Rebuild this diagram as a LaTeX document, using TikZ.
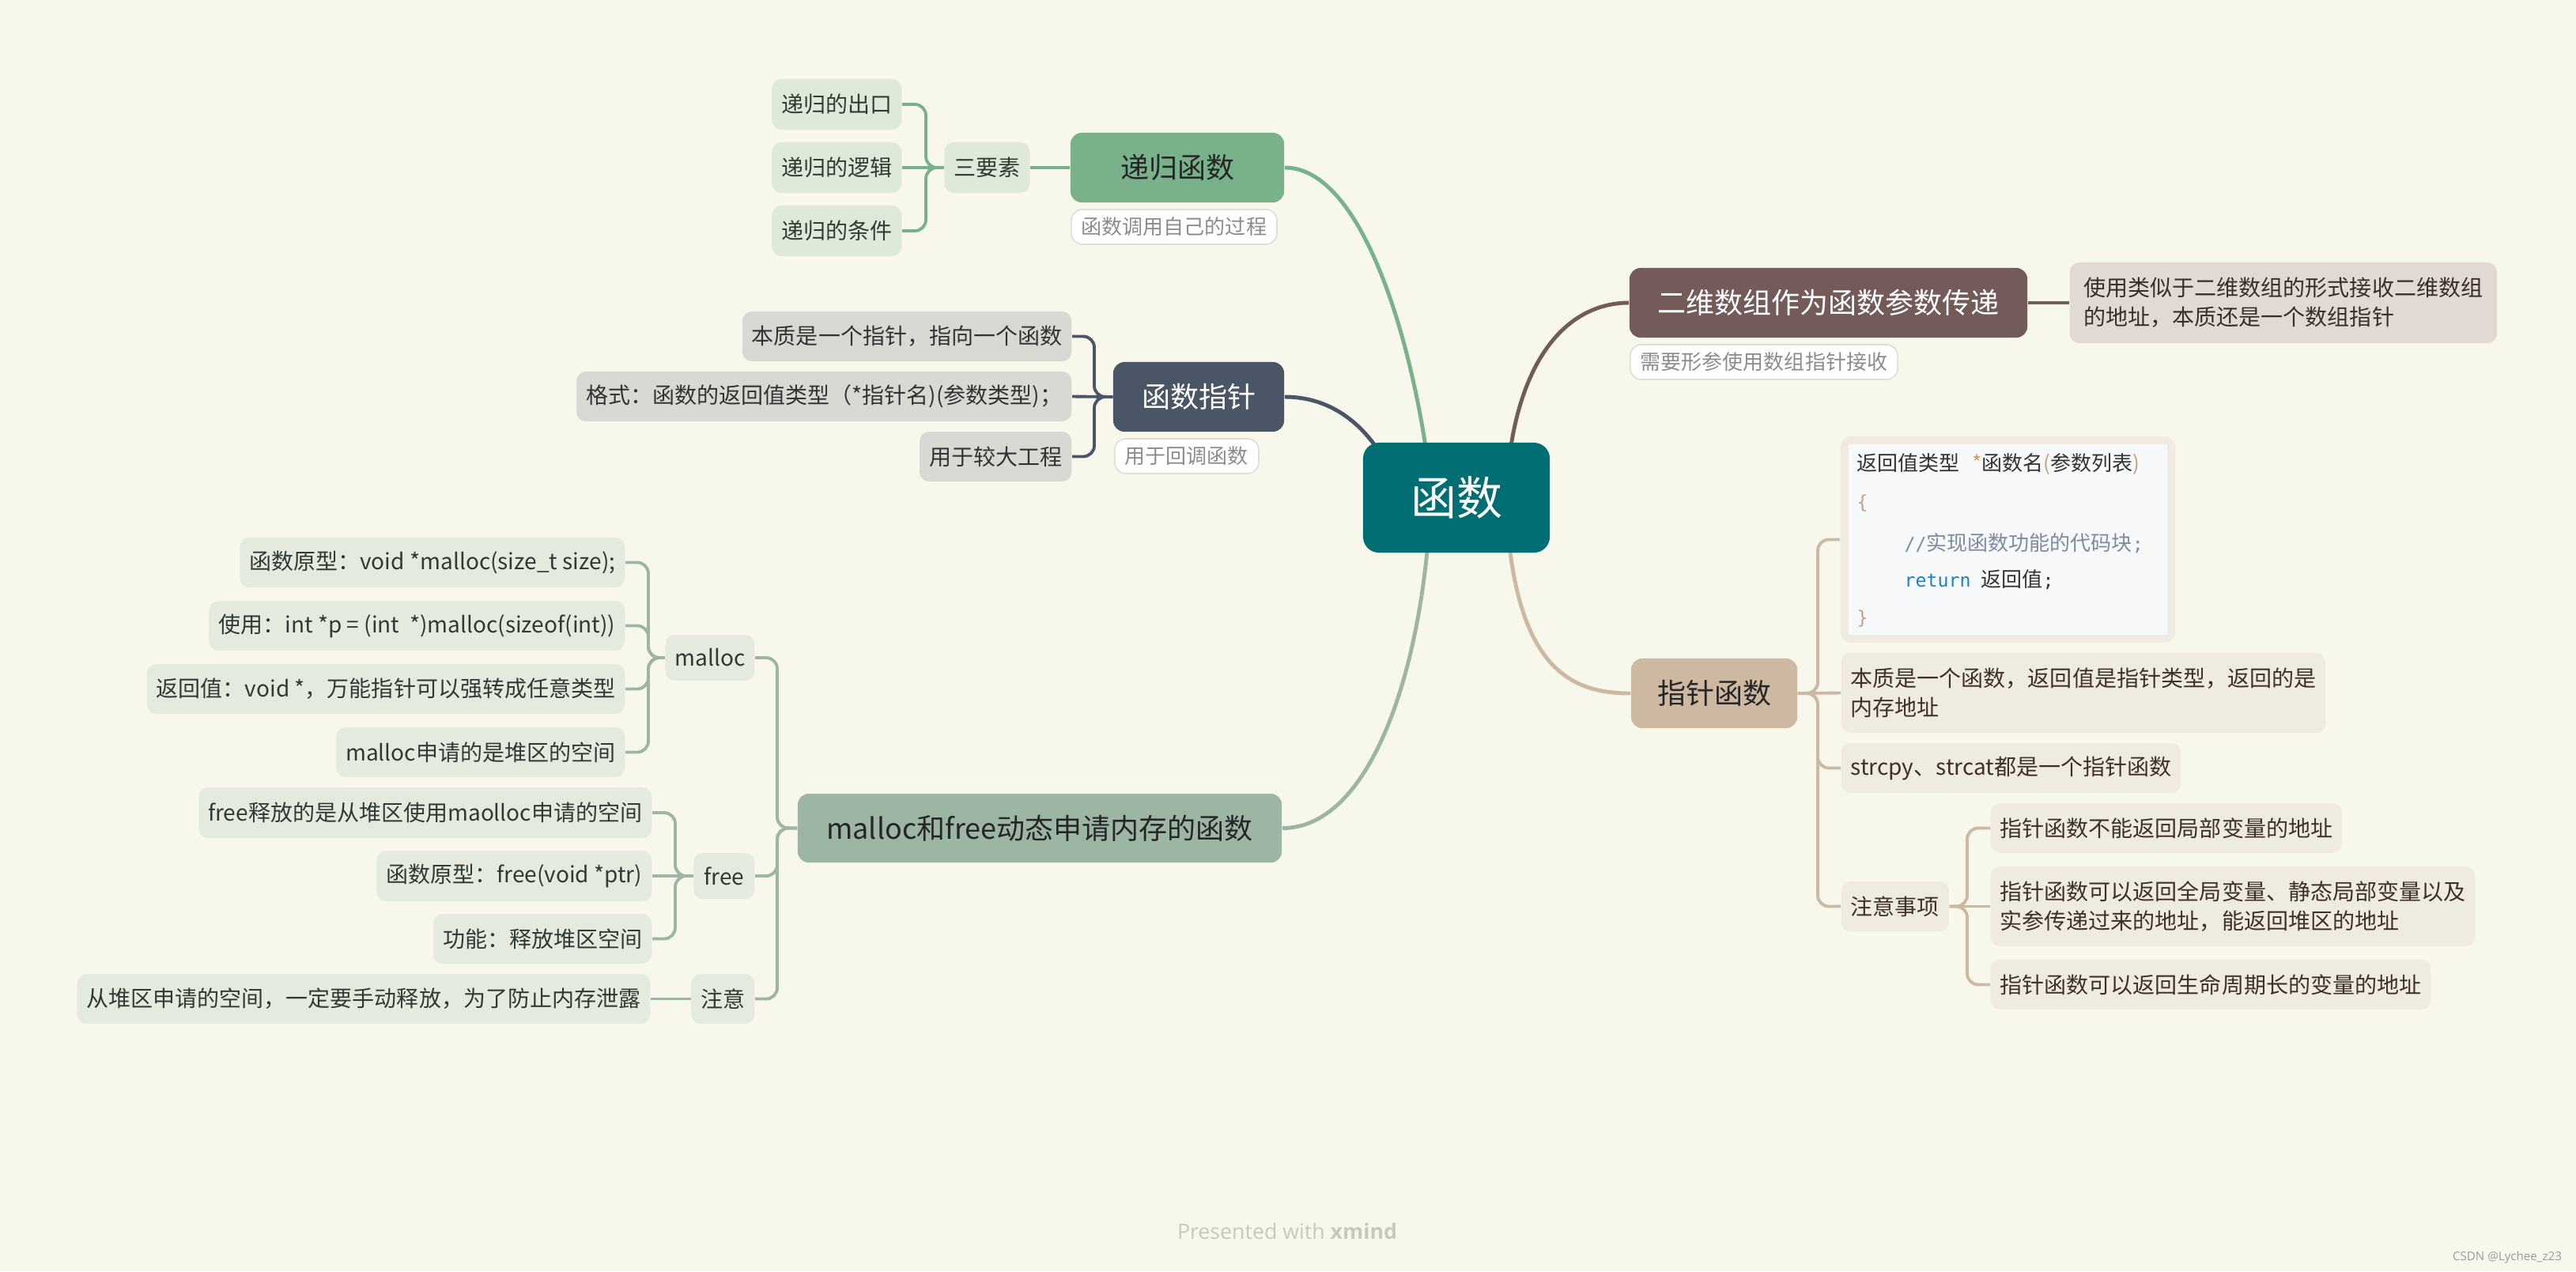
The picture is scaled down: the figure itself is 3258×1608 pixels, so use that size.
\documentclass[tikz,border=0pt]{standalone}
\usepackage{fontspec}
\setmainfont{Noto Sans CJK SC}
\newfontfamily\codefont{DejaVu Sans Mono}
\newfontfamily\latinsans{Open Sans}
\usetikzlibrary{calc}
\pgfdeclarelayer{background}
\pgfsetlayers{background,main}
\definecolor{bg}{HTML}{F8F7EC}
\definecolor{teal0}{HTML}{006E73}
\definecolor{gmain}{HTML}{78B18A}
\definecolor{gsub}{HTML}{DFE9DA}
\definecolor{gtext}{HTML}{2F3E31}
\definecolor{smain}{HTML}{4A5665}
\definecolor{ssub}{HTML}{D9D9D4}
\definecolor{stext}{HTML}{333333}
\definecolor{mmain}{HTML}{9DB6A4}
\definecolor{msub}{HTML}{E5EADF}
\definecolor{mtext}{HTML}{2F3A33}
\definecolor{bmain}{HTML}{735B5A}
\definecolor{bsub}{HTML}{E1D9D2}
\definecolor{btext}{HTML}{3A2E2C}
\definecolor{tmain}{HTML}{CDB8A2}
\definecolor{tsub}{HTML}{EFEBE1}
\definecolor{ttext}{HTML}{3E3129}
\definecolor{labborder}{HTML}{DEDED6}
\definecolor{labtext}{HTML}{8C8C8C}
\definecolor{codebg}{HTML}{F6F8FA}
\definecolor{codeblue}{HTML}{1F80C4}
\definecolor{codegray}{HTML}{7D8C9C}
\definecolor{codetan}{HTML}{C2A37E}
\definecolor{codestar}{HTML}{D0A060}
\definecolor{footgray}{HTML}{C8C8BE}
\definecolor{csdngray}{HTML}{9A9A9A}
\newcommand\myfsub{\fontsize{7.97pt}{10.5pt}\selectfont}
\newcommand\myflab{\fontsize{7.4pt}{9pt}\selectfont}
\newcommand\myfmain{\fontsize{10.24pt}{12pt}\selectfont}
\newcommand\myfcen{\fontsize{16.5pt}{20pt}\selectfont}
\newcommand\myfcode{\fontsize{7.4pt}{9pt}\selectfont}
\newcommand\myfmono{\fontsize{6.6pt}{9pt}\selectfont}
\begin{document}
\begin{tikzpicture}[x=0.01cm,y=-0.01cm,
  every node/.style={inner sep=0pt},
  mainbox/.style={rounded corners=0.14cm, minimum height=0.88cm, align=center, font=\myfmain},
  subbox/.style={rounded corners=0.12cm, minimum height=0.63cm, inner xsep=0.12cm, align=left, font=\myfsub},
  labbox/.style={rounded corners=0.14cm, fill=white, draw=labborder, line width=0.45pt, minimum height=0.44cm, inner xsep=0.13cm, text=labtext, font=\myflab},
  gs/.style={subbox, fill=gsub, text=gtext},
  ss/.style={subbox, fill=ssub, text=stext},
  ms/.style={subbox, fill=msub, text=mtext},
  bs/.style={subbox, fill=bsub, text=btext},
  ts/.style={subbox, fill=tsub, text=ttext},
  conn/.style={draw=#1, line width=1.4pt},
  brk/.style={draw=#1, line width=1.1pt, rounded corners=0.14cm},
  codeline/.style={anchor=west, font=\myfcode, text=stext}
]
\useasboundingbox (0,0) rectangle (3258,1608);

% ---------- central
\node[rounded corners=0.2cm, fill=teal0, minimum width=2.36cm, minimum height=1.39cm, text=white, font=\myfcen] (zx) at (1842,629.5) {函数};

% ---------- recursion branch
\node[mainbox, fill=gmain, minimum width=2.70cm, text=black!85] (dg) at (1489,212) {递归函数};
\node[labbox, anchor=west] (dgl) at (1354,287) {函数调用自己的过程};
\node[gs, minimum width=1.07cm, minimum height=0.64cm, align=center] (sys) at (1248.5,212) {三要素};
\node[gs, anchor=east, minimum height=0.64cm] (g1) at (1141,132) {递归的出口};
\node[gs, anchor=east, minimum height=0.64cm] (g2) at (1141,212) {递归的逻辑};
\node[gs, anchor=east, minimum height=0.64cm] (g3) at (1141,292) {递归的条件};

% ---------- function pointer branch
\node[mainbox, fill=smain, minimum width=2.16cm, text=white] (zz) at (1516,502) {函数指针};
\node[labbox, anchor=west] (zzl) at (1409,577) {用于回调函数};
\node[ss, anchor=east] (p1) at (1356,425.5) {本质是一个指针，指向一个函数};
\node[ss, anchor=east] (p2) at (1356,501.5) {格式：函数的返回值类型（*指针名)(参数类型)；};
\node[ss, anchor=east] (p3) at (1356,577.5) {用于较大工程};

% ---------- malloc / free branch
\node[mainbox, fill=mmain, minimum width=6.12cm, minimum height=0.87cm, text=black!85] (mf) at (1315,1047.5) {malloc和free动态申请内存的函数};
\node[ms, anchor=east, minimum width=1.10cm, minimum height=0.58cm, align=center] (ml) at (955,832) {malloc};
\node[ms, anchor=east] (m1) at (791,711.5) {函数原型：void *malloc(size\_t size);};
\node[ms, anchor=east] (m2) at (791,791.5) {使用：int *p = (int\ \ *)malloc(sizeof(int))};
\node[ms, anchor=east] (m3) at (791,871.5) {返回值：void *，万能指针可以强转成任意类型};
\node[ms, anchor=east] (m4) at (791,951.5) {malloc申请的是堆区的空间};
\node[ms, anchor=east, minimum width=0.77cm, minimum height=0.58cm, align=center] (fr) at (955,1108) {free};
\node[ms, anchor=east, minimum height=0.64cm] (f1) at (825,1028) {free释放的是从堆区使用maolloc申请的空间};
\node[ms, anchor=east, minimum height=0.64cm] (f2) at (825,1108) {函数原型：free(void *ptr)};
\node[ms, anchor=east] (f3) at (825,1187.5) {功能：释放堆区空间};
\node[ms, anchor=east, minimum width=0.78cm, align=center] (zy) at (955,1263.5) {注意};
\node[ms, anchor=east] (zy1) at (823,1263.5) {从堆区申请的空间，一定要手动释放，为了防止内存泄露};

% ---------- 2D array branch
\node[mainbox, fill=bmain, minimum width=5.03cm, text=white] (ew) at (2312.5,383) {二维数组作为函数参数传递};
\node[labbox, anchor=west] (ewl) at (2061,458) {需要形参使用数组指针接收};
\node[bs, anchor=west, minimum width=5.40cm, minimum height=1.02cm] (ew1) at (2617,383) {使用类似于二维数组的形式接收二维数组\\的地址，本质还是一个数组指针};

% ---------- pointer function branch
\node[mainbox, fill=tmain, minimum width=2.10cm, text=black!85] (zf) at (2168,877) {指针函数};
\node[rounded corners=0.14cm, fill=tsub, minimum width=4.23cm, minimum height=2.61cm] (cb) at (2539.5,682.5) {};
\fill[codebg] ($(cb.north west)+(11,11)$) rectangle ($(cb.south east)+(-11,-11)$);
\node[codeline] (c1) at (2348,587) {返回值类型\hspace{0.6em}{\color{codestar}*}函数名{\color{codetan}(}参数列表{\color{codetan})}};
\node[codeline] (c2) at (2348,637) {\codefont\myfmono\color{codetan}\{};
\node[codeline, text=codegray] (c3) at (2408,687) {{\codefont\myfmono //}实现函数功能的代码块{\codefont\myfmono ;}};
\node[codeline] (c4) at (2408,733) {{\codefont\myfmono\color{codeblue}return}\hspace{0.5em}返回值{\codefont\myfmono ;}};
\node[codeline] (c5) at (2348,783) {\codefont\myfmono\color{codetan}\}};
\node[ts, anchor=west, minimum height=1.01cm] (zf1) at (2328,876.5) {本质是一个函数，返回值是指针类型，返回的是\\内存地址};
\node[ts, anchor=west] (zf2) at (2328,971.5) {strcpy、strcat都是一个指针函数};
\node[ts, anchor=west] (zf3) at (2328,1146.5) {注意事项};
\node[ts, anchor=west] (zf3a) at (2517,1047.5) {指针函数不能返回局部变量的地址};
\node[ts, anchor=west, minimum height=1.01cm] (zf3b) at (2517,1146.5) {指针函数可以返回全局变量、静态局部变量以及\\实参传递过来的地址，能返回堆区的地址};
\node[ts, anchor=west] (zf3c) at (2517,1245.5) {指针函数可以返回生命周期长的变量的地址};

% ---------- footer
\node[font=\latinsans\fontsize{7.6pt}{10pt}\selectfont, text=footgray] (pw) at (1628,1557) {Presented with \textbf{xmind}};
\node[font=\latinsans\fontsize{4.3pt}{6pt}\selectfont, text=csdngray] (csdn) at (3171,1591) {CSDN @Lychee\_z23};

% ---------- coordinates
\coordinate (zxg) at (1808,600);
\coordinate (zxs) at (1760,600);
\coordinate (zxm) at (1808,660);
\coordinate (zxb) at (1905,620);
\coordinate (zxt) at (1905,640);
\coordinate (bxg) at (1171,0);
\coordinate (bxs) at (1384,0);
\coordinate (bxml) at (820,0);
\coordinate (bxfr) at (854,0);
\coordinate (bxm) at (983,0);
\coordinate (bxt) at (2299,0);
\coordinate (bxz) at (2488,0);

\begin{pgfonlayer}{background}
\fill[bg] (0,0) rectangle (3258,1608);
% main curves
\draw[conn=gmain] (dg.east) .. controls (1720,212) and (1785,420) .. (zxg);
\draw[conn=smain] (zz.east) .. controls (1690,502) and (1735,545) .. (zxs);
\draw[conn=mmain] (mf.east) .. controls (1730,1047.5) and (1795,860) .. (zxm);
\draw[conn=bmain] (zxb) .. controls (1915,450) and (1985,383) .. (ew.west);
\draw[conn=tmain] (zxt) .. controls (1915,850) and (1990,877) .. (zf.west);
% recursion brackets
\draw[brk=gmain] (dg.west) -- (sys.east);
\draw[brk=gmain] (sys.west) -- (g2.east);
\draw[brk=gmain] (sys.west) -- (sys.west -| bxg) -- (g1.east -| bxg) -- (g1.east);
\draw[brk=gmain] (sys.west) -- (sys.west -| bxg) -- (g3.east -| bxg) -- (g3.east);
% function pointer brackets
\draw[brk=smain] (zz.west) -- (p2.east);
\draw[brk=smain] (zz.west) -- (zz.west -| bxs) -- (p1.east -| bxs) -- (p1.east);
\draw[brk=smain] (zz.west) -- (zz.west -| bxs) -- (p3.east -| bxs) -- (p3.east);
% malloc-free brackets
\draw[brk=mmain] (mf.west) -- (mf.west -| bxm) -- (ml.east -| bxm) -- (ml.east);
\draw[brk=mmain] (mf.west) -- (mf.west -| bxm) -- (fr.east -| bxm) -- (fr.east);
\draw[brk=mmain] (mf.west) -- (mf.west -| bxm) -- (zy.east -| bxm) -- (zy.east);
\draw[brk=mmain] (ml.west) -- (ml.west -| bxml) -- (m1.east -| bxml) -- (m1.east);
\draw[brk=mmain] (ml.west) -- (ml.west -| bxml) -- (m2.east -| bxml) -- (m2.east);
\draw[brk=mmain] (ml.west) -- (ml.west -| bxml) -- (m3.east -| bxml) -- (m3.east);
\draw[brk=mmain] (ml.west) -- (ml.west -| bxml) -- (m4.east -| bxml) -- (m4.east);
\draw[brk=mmain] (fr.west) -- (f2.east);
\draw[brk=mmain] (fr.west) -- (fr.west -| bxfr) -- (f1.east -| bxfr) -- (f1.east);
\draw[brk=mmain] (fr.west) -- (fr.west -| bxfr) -- (f3.east -| bxfr) -- (f3.east);
\draw[brk=mmain] (zy.west) -- (zy1.east);
% 2D array
\draw[brk=bmain] (ew.east) -- (ew1.west);
% pointer function brackets
\draw[brk=tmain] (zf.east) -- (zf1.west);
\draw[brk=tmain] (zf.east) -- (zf.east -| bxt) -- (cb.west -| bxt) -- (cb.west);
\draw[brk=tmain] (zf.east) -- (zf.east -| bxt) -- (zf2.west -| bxt) -- (zf2.west);
\draw[brk=tmain] (zf.east) -- (zf.east -| bxt) -- (zf3.west -| bxt) -- (zf3.west);
\draw[brk=tmain] (zf3.east) -- (zf3b.west);
\draw[brk=tmain] (zf3.east) -- (zf3.east -| bxz) -- (zf3a.west -| bxz) -- (zf3a.west);
\draw[brk=tmain] (zf3.east) -- (zf3.east -| bxz) -- (zf3c.west -| bxz) -- (zf3c.west);
\end{pgfonlayer}
\end{tikzpicture}
\end{document}
